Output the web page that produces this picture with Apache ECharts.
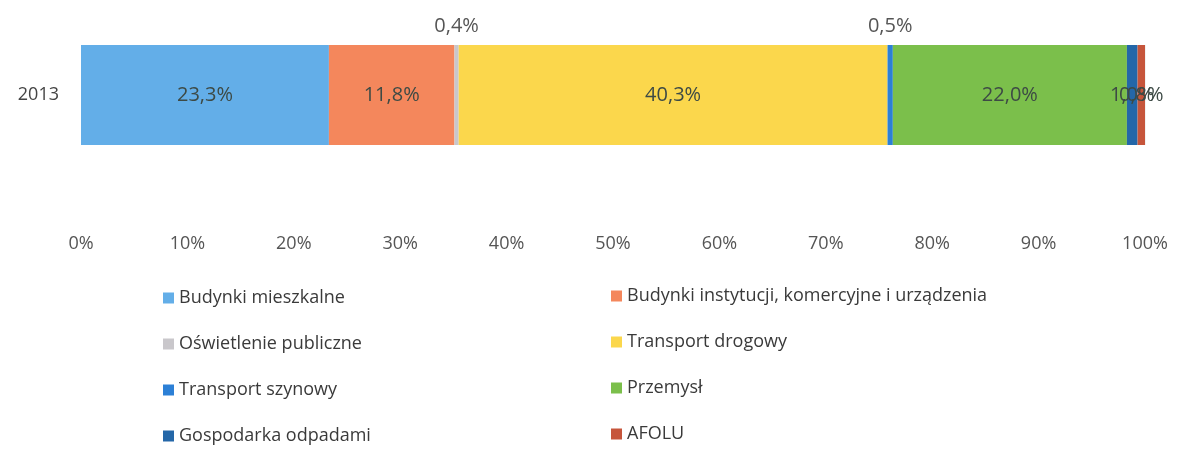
<!DOCTYPE html>
<html lang="pl">
<head>
    <meta charset="UTF-8">
    <title>Struktura emisji 2013</title>
    <script src="https://cdn.jsdelivr.net/npm/echarts@6/dist/echarts.min.js"></script>
    <style>
        * { margin: 0; padding: 0; box-sizing: border-box; }
        body { background: #ffffff; }
        #chart { width: 1179px; height: 450px; }
    </style>
</head>
<body>
    <div id="chart"></div>
    <script>
        // data
        const years = ['2013'];
        const sectors = [
            'Budynki mieszkalne',
            'Budynki instytucji, komercyjne i urządzenia',
            'Oświetlenie publiczne',
            'Transport drogowy',
            'Transport szynowy',
            'Przemysł',
            'Gospodarka odpadami',
            'AFOLU'
        ];
        const shares = [23.3, 11.8, 0.4, 40.3, 0.5, 22.0, 1.0, 0.8];
        const colors = ['#63aee8', '#f4875c', '#c9c7cb', '#fbd74c', '#2c80d6', '#7bbf4b', '#2467a8', '#c6553b'];
        // small slices whose label sits above the bar
        const labelsOnTop = ['Oświetlenie publiczne', 'Transport szynowy'];
        const xTicks = [0, 10, 20, 30, 40, 50, 60, 70, 80, 90, 100];

        const fontFam = '"Open Sans", sans-serif';
        const fmt = v => v.toFixed(1).replace('.', ',') + '%';

        const series = sectors.map((name, i) => ({
            name: name,
            type: 'bar',
            stack: 'total',
            barWidth: 100,
            data: [shares[i]],
            itemStyle: { color: colors[i] },
            label: {
                show: true,
                position: labelsOnTop.includes(name) ? 'top' : 'inside',
                distance: 9,
                color: labelsOnTop.includes(name) ? '#555' : '#3d4a45',
                fontFamily: fontFam,
                fontSize: 20,
                formatter: p => fmt(p.value)
            }
        }));

        const legendText = { color: '#3a3a3a', fontFamily: fontFam, fontSize: 18 };

        const chart = echarts.init(document.getElementById('chart'));
        chart.setOption({
            animation: false,
            color: colors,
            grid: { left: 81, right: 34, top: 45, height: 100 },
            xAxis: {
                type: 'value',
                min: xTicks[0],
                max: xTicks[xTicks.length - 1],
                interval: 10,
                axisLine: { show: false },
                axisTick: { show: false },
                splitLine: { show: true, lineStyle: { color: '#f2f2f2' } },
                axisLabel: {
                    margin: 90,
                    color: '#555',
                    fontFamily: fontFam,
                    fontSize: 18,
                    formatter: v => v + '%'
                }
            },
            yAxis: {
                type: 'category',
                data: years,
                axisLine: { show: false },
                axisTick: { show: false },
                axisLabel: { margin: 22, color: '#444', fontFamily: fontFam, fontSize: 18 }
            },
            legend: [
                {
                    orient: 'vertical',
                    left: 163,
                    top: 289,
                    padding: 0,
                    icon: 'rect',
                    itemWidth: 11,
                    itemHeight: 11,
                    itemGap: 28,
                    data: [sectors[0], sectors[2], sectors[4], sectors[6]],
                    textStyle: legendText
                },
                {
                    orient: 'vertical',
                    left: 611,
                    top: 287,
                    padding: 0,
                    icon: 'rect',
                    itemWidth: 11,
                    itemHeight: 11,
                    itemGap: 28,
                    data: [sectors[1], sectors[3], sectors[5], sectors[7]],
                    textStyle: legendText
                }
            ],
            series: series
        });
    </script>
</body>
</html>
